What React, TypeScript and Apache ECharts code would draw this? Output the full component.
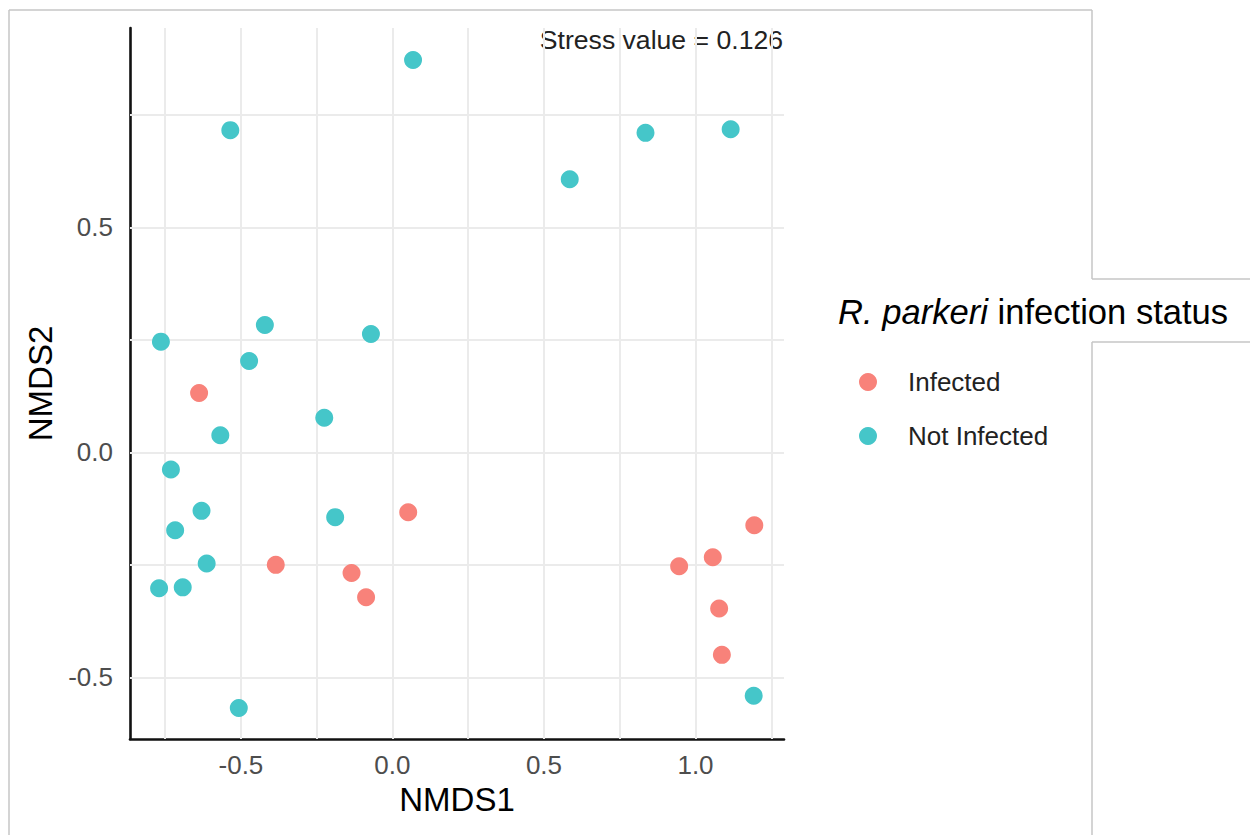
import React, { useEffect, useRef } from "react";
import * as echarts from "echarts";

const seriesNames = ["Infected", "Not Infected"];
const seriesColors = ["#F8827A", "#45C6C9"];

const infectedX = [-0.638, -0.385, -0.135, -0.087, 0.052, 0.946, 1.057, 1.194, 1.078, 1.087];
const infectedY = [0.132, -0.25, -0.268, -0.322, -0.133, -0.253, -0.233, -0.162, -0.347, -0.45];

const notInfectedX = [0.068, -0.535, 0.835, 1.116, 0.585, -0.764, -0.421, -0.473, -0.071, -0.225, -0.568, -0.731, -0.63, -0.717, -0.613, -0.77, -0.692, -0.189, -0.507, 1.192];
const notInfectedY = [0.872, 0.716, 0.71, 0.718, 0.607, 0.246, 0.283, 0.203, 0.263, 0.077, 0.038, -0.038, -0.13, -0.173, -0.247, -0.302, -0.3, -0.144, -0.568, -0.541];

const xTickLabels = [-0.5, 0, 0.5, 1.0];
const yTickLabels = [-0.5, 0, 0.5];
const xGridValues = [-0.75, -0.5, -0.25, 0, 0.25, 0.5, 0.75, 1.0, 1.25];
const yGridValues = [-0.5, -0.25, 0, 0.25, 0.5, 0.75];

const xRange = [-0.866, 1.292];
const yRange = [-0.637, 0.943];

const stressText = "Stress value = 0.126";

const FONT = "'Liberation Sans', Arial, Helvetica, sans-serif";

export default function App() {
  const ref = useRef<HTMLDivElement>(null);

  useEffect(() => {
    if (!ref.current) return;
    const chart = echarts.init(ref.current, null, { renderer: "svg" });

    const pair = (xs: number[], ys: number[]) => xs.map((x, i) => [x, ys[i]]);
    const gridLineStyle = { color: "#ebebeb", width: 2, type: "solid" };
    const borderStyle = { stroke: "#c6c6c6", lineWidth: 1.5 };

    chart.setOption({
      animation: false,
      backgroundColor: "#ffffff",
      textStyle: { fontFamily: FONT },
      grid: { left: 130, right: 466, top: 28, bottom: 96, containLabel: false },
      xAxis: {
        type: "value",
        min: xRange[0],
        max: xRange[1],
        name: "NMDS1",
        nameLocation: "middle",
        nameGap: 44,
        nameTextStyle: { fontSize: 33, color: "#000", fontFamily: FONT },
        axisLine: { show: true, onZero: false, lineStyle: { color: "#111", width: 2.6 } },
        axisTick: { show: false },
        splitLine: { show: false },
        axisLabel: {
          customValues: xTickLabels,
          formatter: (v: number) => v.toFixed(1),
          fontSize: 26,
          color: "#4d4d4d",
          margin: 13,
          fontFamily: FONT,
        },
      },
      yAxis: {
        type: "value",
        min: yRange[0],
        max: yRange[1],
        name: "NMDS2",
        nameLocation: "middle",
        nameGap: 72,
        nameTextStyle: { fontSize: 33, color: "#000", fontFamily: FONT },
        axisLine: { show: true, onZero: false, lineStyle: { color: "#111", width: 2.6 } },
        axisTick: { show: false },
        splitLine: { show: false },
        axisLabel: {
          customValues: yTickLabels,
          formatter: (v: number) => v.toFixed(1),
          fontSize: 26,
          color: "#4d4d4d",
          margin: 17,
          fontFamily: FONT,
        },
      },
      legend: {
        data: seriesNames,
        orient: "vertical",
        left: 854,
        top: 362,
        icon: "circle",
        itemWidth: 18,
        itemHeight: 18,
        itemGap: 24,
        textStyle: { fontSize: 26, color: "#222", lineHeight: 30, padding: [0, 0, 0, 26], fontFamily: FONT },
      },
      series: [
        {
          name: "grid",
          type: "scatter",
          data: [],
          silent: true,
          z: 1,
          markLine: {
            silent: true,
            z: 1,
            symbol: ["none", "none"],
            label: { show: false },
            lineStyle: gridLineStyle,
            emphasis: { disabled: true },
            data: [
              ...xGridValues.map((v) => ({ xAxis: v })),
              ...yGridValues.map((v) => ({ yAxis: v })),
            ],
          },
        },
        {
          name: seriesNames[0],
          type: "scatter",
          symbolSize: 18,
          z: 3,
          itemStyle: { color: seriesColors[0], opacity: 1 },
          data: pair(infectedX, infectedY),
        },
        {
          name: seriesNames[1],
          type: "scatter",
          symbolSize: 18,
          z: 3,
          itemStyle: { color: seriesColors[1], opacity: 1 },
          data: pair(notInfectedX, notInfectedY),
        },
      ],
      graphic: [
        { type: "line", shape: { x1: 9, y1: 10, x2: 9, y2: 835 }, style: borderStyle, silent: true },
        { type: "line", shape: { x1: 9, y1: 10, x2: 1092, y2: 10 }, style: borderStyle, silent: true },
        { type: "line", shape: { x1: 1092, y1: 10, x2: 1092, y2: 279 }, style: borderStyle, silent: true },
        { type: "line", shape: { x1: 1092, y1: 279, x2: 1250, y2: 279 }, style: borderStyle, silent: true },
        { type: "line", shape: { x1: 1092, y1: 342, x2: 1250, y2: 342 }, style: borderStyle, silent: true },
        { type: "line", shape: { x1: 1092, y1: 342, x2: 1092, y2: 835 }, style: borderStyle, silent: true },
        {
          type: "text",
          right: 1250 - 783,
          top: 26,
          style: {
            text: stressText,
            fontSize: 26.6,
            fill: "#222",
            fontFamily: FONT,
          },
        },
        {
          type: "text",
          left: 838,
          top: 294,
          style: {
            text: "{i|R. parkeri} infection status",
            fontSize: 34.6,
            fill: "#000",
            fontFamily: FONT,
            rich: {
              i: { fontStyle: "italic", fontSize: 34.6, fill: "#000", fontFamily: FONT },
            },
          },
        },
      ],
    });

    return () => chart.dispose();
  }, []);

  return (
    <div
      ref={ref}
      style={{ position: "absolute", left: 0, top: 0, width: 1250, height: 835 }}
    />
  );
}
